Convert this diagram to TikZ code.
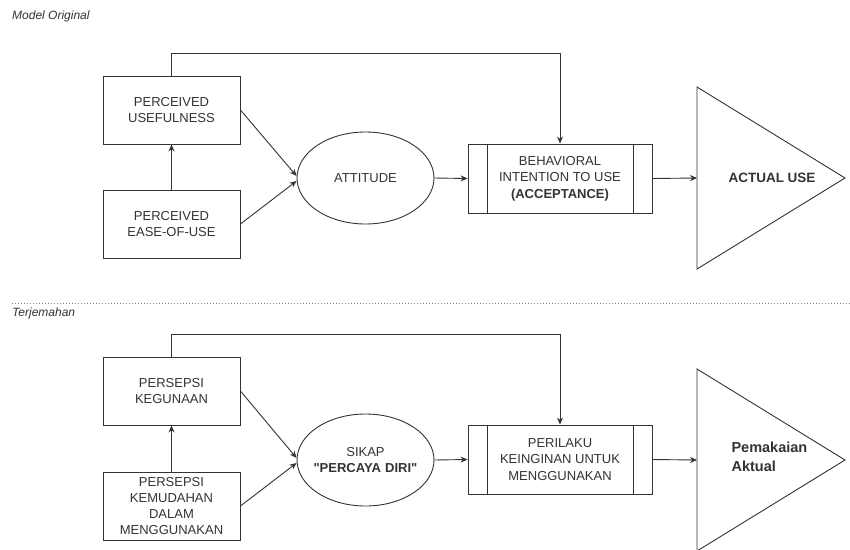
\documentclass[tikz,border=0pt]{standalone}
\usepackage{fontspec}
\setmainfont{Liberation Sans}[Ligatures=TeXOff]
\usetikzlibrary{shapes.geometric,arrows.meta}
\definecolor{ink}{HTML}{333333}

\begin{document}
\begin{tikzpicture}[x=1pt, y=-1pt,
    box/.style={draw=ink, line width=0.9pt, minimum width=137pt, minimum height=68pt, inner sep=2pt,
      align=center, text=ink, font=\fontsize{13}{16.5}\selectfont},
    oval/.style={draw=ink, ellipse, line width=0.9pt, minimum width=137pt, minimum height=92pt, inner sep=0pt,
      text width=80pt, align=center, text=ink, font=\fontsize{13}{16.5}\selectfont},
    proc/.style={box, minimum width=184pt, minimum height=69pt,
      path picture={
        \draw[ink, line width=0.9pt] ([xshift=19pt]path picture bounding box.north west) -- ([xshift=19pt]path picture bounding box.south west);
        \draw[ink, line width=0.9pt] ([xshift=-19pt]path picture bounding box.north east) -- ([xshift=-19pt]path picture bounding box.south east);
      }},
    wire/.style={draw=ink, line width=0.9pt},
    arr/.style={wire, -{Stealth[length=7pt, width=6pt]}},
    capt/.style={anchor=west, inner sep=0pt, text=ink, font=\itshape\fontsize{12}{14}\selectfont},
    outp/.style={text=ink, font=\bfseries\fontsize{13.5}{17}\selectfont},
  ]
  \useasboundingbox[fill=white] (0,0) rectangle (850,549);

  % Model original
  \node[capt] (cap1) at (12,16) {Model Original};
  \node[box]  (pu)  at (171.5,110) {PERCEIVED\\USEFULNESS};
  \node[box]  (pe)  at (171.5,224) {PERCEIVED\\EASE-OF-USE};
  \node[oval] (att) at (365.5,178) {ATTITUDE};
  \node[proc] (bi)  at (560,178.5) {BEHAVIORAL\\INTENTION TO USE\\\textbf{(ACCEPTANCE)}};
  \draw[wire] (697,87) -- (845,178) -- (697,269) -- cycle;
  \coordinate (au-in) at (697,178);
  \node[outp] (au) at (772,178) {ACTUAL USE};

  \draw[arr] (pe.north) -- (pu.south);
  \draw[arr] (pu.east) -- ([yshift=2pt]att.west);
  \draw[arr] (pe.east) -- ([yshift=-3pt]att.west);
  \draw[arr] (att.east) -- (bi.west);
  \draw[arr] (pu.north) -- ++(0,-22) -| (bi.north);
  \draw[arr] (bi.east) -- (au-in);

  % Separator
  \draw[gray, dotted, line width=1pt] (12,303) -- (850,303);

  % Terjemahan
  \node[capt] (cap2) at (12,313) {Terjemahan};
  \node[box]  (pk)  at (171.5,391) {PERSEPSI\\KEGUNAAN};
  \node[box, font=\fontsize{13}{16}\selectfont] (pkm) at (171.5,506) {PERSEPSI\\KEMUDAHAN\\DALAM\\MENGGUNAKAN};
  \node[oval] (sk)  at (365.5,460) {SIKAP\\\makebox[0pt]{\textbf{"PERCAYA DIRI"}}};
  \node[proc] (pki) at (560,459.5) {PERILAKU\\KEINGINAN UNTUK\\MENGGUNAKAN};
  \draw[wire] (697,369) -- (845,460) -- (697,551) -- cycle;
  \coordinate (pa-in) at (697,460);
  \node[outp, anchor=west, align=left, font=\bfseries\fontsize{14.5}{19}\selectfont] (pa) at (728,457) {Pemakaian\\Aktual};

  \draw[arr] (pkm.north) -- (pk.south);
  \draw[arr] (pk.east) -- ([yshift=2pt]sk.west);
  \draw[arr] (pkm.east) -- ([yshift=-3pt]sk.west);
  \draw[arr] (sk.east) -- (pki.west);
  \draw[arr] (pk.north) -- ++(0,-22) -| (pki.north);
  \draw[arr] (pki.east) -- (pa-in);
\end{tikzpicture}
\end{document}
